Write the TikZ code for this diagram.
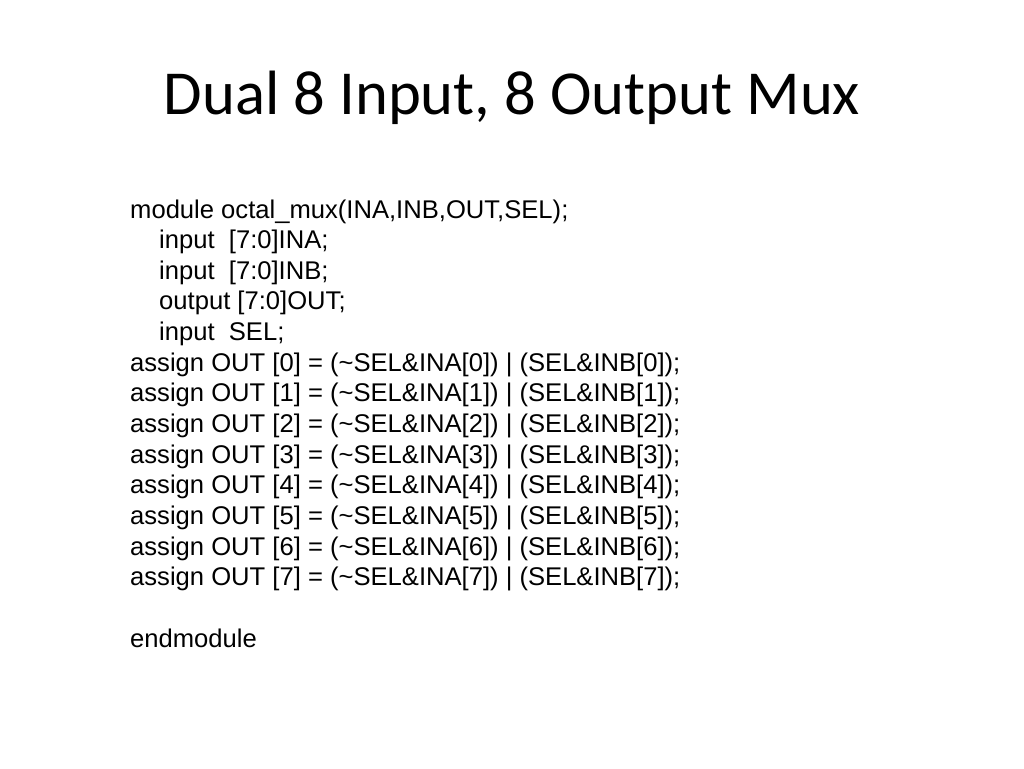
\documentclass[tikz,border=0pt]{standalone}
\usepackage{fontspec}
\setmainfont{Liberation Sans}
\newfontfamily\titlefont{Carlito}
\begin{document}
\begin{tikzpicture}[x=1pt,y=-1pt,
  codeline/.style={anchor=base west,inner sep=0pt,font=\fontsize{25.6}{30}\selectfont},
  titletext/.style={anchor=base,inner sep=0pt,font=\titlefont\fontsize{62.6}{70}\selectfont}]
\useasboundingbox[fill=white] (0,0) rectangle (1024,768);
\node[titletext] (title) at (512,114) {Dual 8 Input, 8 Output Mux};
\def\ls{30.65}
\node[codeline] (l0) at (130,218) {module octal\_mux(INA,INB,OUT,SEL);};
\node[codeline] (l1) at (159,218+\ls) {input\ \ [7:0]INA;};
\node[codeline] (l2) at (159,218+2*\ls) {input\ \ [7:0]INB;};
\node[codeline] (l3) at (159,218+3*\ls) {output [7:0]OUT;};
\node[codeline] (l4) at (159,218+4*\ls) {input\ \ SEL;};
\foreach \i in {0,...,7}{
  \node[codeline] (a\i) at (130,218+\ls*5+\ls*\i) {assign OUT [\i] = (\textasciitilde SEL\&INA[\i]) | (SEL\&INB[\i]);};
}
\node[codeline] (end) at (130,218+14*\ls) {endmodule};
\end{tikzpicture}
\end{document}
